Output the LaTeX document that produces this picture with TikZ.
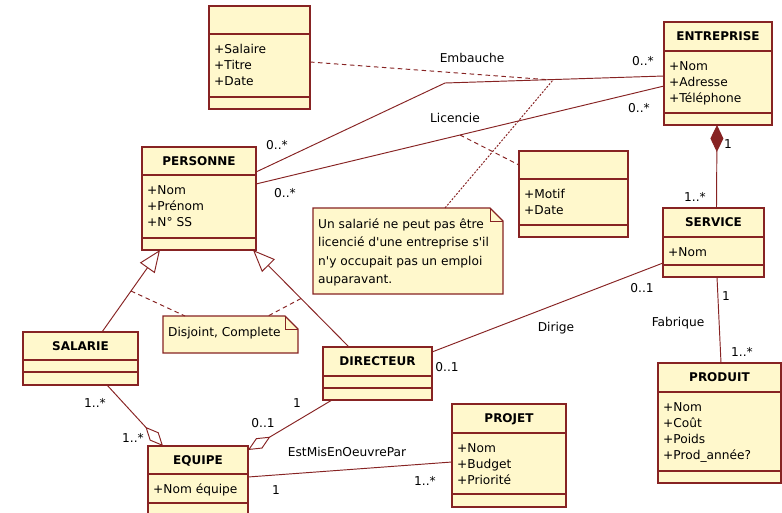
\documentclass[tikz,border=0pt]{standalone}
\usepackage{fontspec}
\setmainfont{DejaVu Sans}
\usetikzlibrary{arrows.meta}

\definecolor{umlfill}{RGB}{255,248,204}
\definecolor{umlline}{RGB}{135,35,35}

\tikzset{
  classbox/.style={draw=umlline, fill=umlfill, line width=1.3pt, rectangle,
    inner sep=0pt, outer sep=0pt, anchor=north west},
  divider/.style={draw=umlline, line width=1.1pt},
  titletext/.style={font=\fontsize{12}{14}\selectfont\bfseries, inner sep=0pt, anchor=base},
  attrtext/.style={font=\fontsize{12.2}{14}\selectfont, inner sep=0pt, anchor=base west},
  lbl/.style={font=\fontsize{12.2}{14}\selectfont, inner sep=0pt, anchor=base},
  assoc/.style={draw=umlline, line width=0.95pt},
  assocdash/.style={draw=umlline, line width=0.95pt, dash pattern=on 4.5pt off 3.5pt},
  notelink/.style={draw=umlline, line width=0.95pt, dash pattern=on 2pt off 1.5pt},
  notebox/.style={rectangle, inner sep=0pt, outer sep=0pt, anchor=north west},
  gentip/.style={-{Triangle[open, fill=white, length=22pt, width=18pt]}},
  aggtip/.style={-{Diamond[open, fill=white, length=26pt, width=12pt]}},
}

% class box: name, x, y, width, height, first divider, second divider, title, attributes
\newcommand\umlclass[9]{%
  \node[classbox, minimum width=#4pt, minimum height=#5pt] (#1) at (#2,#3) {};
  \draw[divider] ([yshift=-#6pt]#1.north west) -- ([yshift=-#6pt]#1.north east);
  \draw[divider] ([yshift=-#7pt]#1.north west) -- ([yshift=-#7pt]#1.north east);
  \node[titletext] (#1-title) at ([yshift={-0.5*#6pt-4.4pt}]#1.north) {#8};
  \foreach \attr [count=\k] in {#9} {
    \node[attrtext] (#1-attr\k) at ([xshift=5pt, yshift={-(#6+19+16.3*(\k-1))*1pt}]#1.north west) {\attr};
  }%
}

% note with a folded corner: name, x, y, width, height
\newcommand\umlnote[5]{%
  \node[notebox, minimum width=#4pt, minimum height=#5pt] (#1) at (#2,#3) {};
  \draw[draw=umlline, fill=umlfill, line width=1.1pt] (#1.north west)
    -- ([xshift=-13pt]#1.north east) -- ([yshift=-13pt]#1.north east)
    -- (#1.south east) -- (#1.south west) -- cycle;
  \draw[umlline, line width=0.9pt] ([xshift=-13pt]#1.north east)
    -- ([xshift=-13pt,yshift=-13pt]#1.north east) -- ([yshift=-13pt]#1.north east);
}

\begin{document}
\begin{tikzpicture}[x=1pt, y=-1pt]
\fill[white] (0,0) rectangle (782,512);
\clip (0,0) rectangle (782,512);

% classes
\umlclass{embauche}{209}{6}{101}{103}{28}{91}{}{+Salaire,+Titre,+Date}
\umlclass{entreprise}{664}{22}{108}{103}{29}{91}{ENTREPRISE}{+Nom,+Adresse,+Téléphone}
\umlclass{personne}{142}{147}{114}{103}{28}{91}{PERSONNE}{+Nom,+Prénom,+N° SS}
\umlclass{licencie}{519}{151}{109}{86}{28}{74}{}{+Motif,+Date}
\umlclass{service}{663}{208}{101}{69}{29}{57}{SERVICE}{+Nom}
\umlclass{salarie}{23}{332}{115}{53}{28}{40}{SALARIE}{}
\umlclass{directeur}{323}{347}{109}{53}{29}{41}{DIRECTEUR}{}
\umlclass{produit}{658}{363}{123}{120}{29}{108}{PRODUIT}{+Nom,+Coût,+Poids,+Prod\_année?}
\umlclass{equipe}{148}{446}{100}{75}{28}{57}{EQUIPE}{+Nom équipe}
\umlclass{projet}{452}{404}{114}{103}{29}{90}{PROJET}{+Nom,+Budget,+Priorité}

% notes
\umlnote{note1}{313}{208}{190}{86}
\node[lbl, anchor=base west] (note1-l1) at (318,228) {Un salarié ne peut pas être};
\node[lbl, anchor=base west] (note1-l2) at (318,246.5) {licencié d\textquotesingle une entreprise s\textquotesingle il};
\node[lbl, anchor=base west] (note1-l3) at (318,265) {n\textquotesingle y occupait pas un emploi};
\node[lbl, anchor=base west] (note1-l4) at (318,283) {auparavant.};

\umlnote{note2}{163}{316}{135}{37}
\node[lbl, anchor=base west] (note2-l1) at (168,336) {Disjoint, Complete};

% Embauche and Licencie associations
\coordinate (embbend) at (445,83);
\draw[assoc] ([yshift=-25pt]personne.north east) -- (embbend)
  -- coordinate[pos=0.47] (embmid) coordinate[pos=0.495] (embnote)
  ([yshift=-54pt]entreprise.north west);
\draw[assoc] ([yshift=-37pt]personne.north east)
  -- coordinate[pos=0.5] (licmid) ([yshift=-64pt]entreprise.north west);
\draw[assocdash] ([yshift=-56pt]embauche.north east) -- (embmid);
\draw[assocdash] (licmid) -- ([yshift=-14pt]licencie.north west);
\draw[notelink] ([xshift=132pt]note1.north west) -- (embnote);

% composition ENTREPRISE - SERVICE
\draw[assoc, {Diamond[length=27pt, width=13pt]}-] ([xshift=-1pt]entreprise.south) -- ([xshift=3pt]service.north);
% Fabrique
\draw[assoc] ([xshift=3.5pt]service.south) -- ([xshift=1.5pt]produit.north);
% Dirige
\draw[assoc] ([yshift=-55pt]service.north west) -- ([yshift=-5pt]directeur.north east);

% generalizations
\draw[assoc, gentip] ([xshift=21.5pt]salarie.north)
  -- coordinate[pos=0.5] (gen1mid) ([xshift=-39pt]personne.south);
\draw[assoc, gentip] ([xshift=-28.5pt]directeur.north)
  -- coordinate[pos=0.5] (gen2mid) ([xshift=54pt]personne.south);
\draw[assocdash] (gen1mid) -- ([xshift=22pt]note2.north west);
\draw[assocdash] (gen2mid) -- ([xshift=-30pt]note2.north east);

% aggregations into EQUIPE
\draw[assoc, aggtip] ([xshift=26.5pt]salarie.south) -- ([xshift=-35pt]equipe.north);
\draw[assoc, aggtip] ([xshift=-45.5pt]directeur.south) -- ([yshift=-4pt]equipe.north east);
% EstMisEnOeuvrePar
\draw[assoc] ([yshift=-31pt]equipe.north east) -- ([yshift=-58pt]projet.north west);

% association names and multiplicities
\node[lbl] (l-emb) at (472,62.4) {Embauche};
\node[lbl] (l-lic) at (455,122.4) {Licencie};
\node[lbl] (m-emb-e) at (643,65.4) {0..*};
\node[lbl] (m-lic-e) at (639,112.4) {0..*};
\node[lbl] (m-emb-p) at (277,149.4) {0..*};
\node[lbl] (m-lic-p) at (285,197.4) {0..*};
\node[lbl] (m-comp-e) at (728,148.4) {1};
\node[lbl] (m-comp-s) at (695,201.4) {1..*};
\node[lbl] (m-dir-s) at (642,292.4) {0..1};
\node[lbl] (l-dir) at (556,331.4) {Dirige};
\node[lbl] (m-dir-d) at (447,371.4) {0..1};
\node[lbl] (m-fab-s) at (726,300.4) {1};
\node[lbl] (l-fab) at (678,326.4) {Fabrique};
\node[lbl] (m-fab-p) at (742,356.4) {1..*};
\node[lbl] (m-sal-s) at (95,407.4) {1..*};
\node[lbl] (m-sal-e) at (133,442.4) {1..*};
\node[lbl] (m-dire-e) at (263,427.4) {0..1};
\node[lbl] (m-dire-d) at (297,407.4) {1};
\node[lbl] (l-est) at (347,456.4) {EstMisEnOeuvrePar};
\node[lbl] (m-est-e) at (276,494.4) {1};
\node[lbl] (m-est-p) at (425,485.4) {1..*};
\end{tikzpicture}
\end{document}
